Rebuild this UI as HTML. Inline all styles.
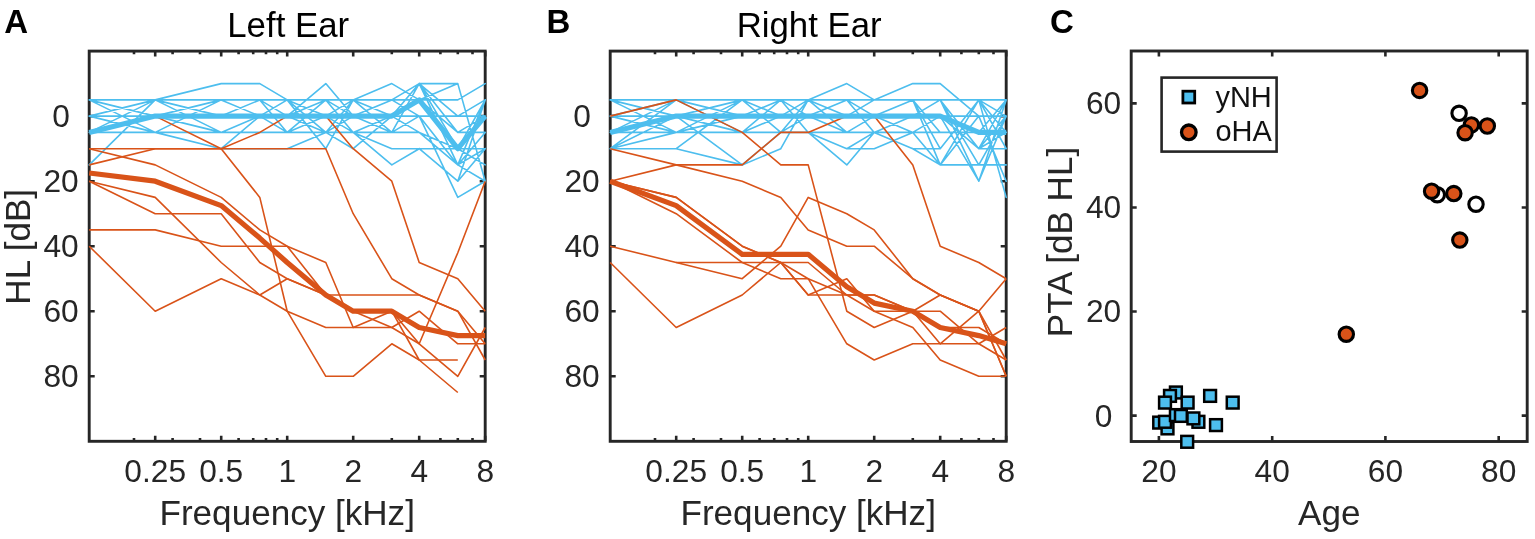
<!DOCTYPE html>
<html><head><meta charset="utf-8"><title>Audiograms</title>
<style>
html,body{margin:0;padding:0;background:#fff;}
body{width:1535px;height:539px;overflow:hidden;}
svg{display:block;}
text{font-family:"Liberation Sans",sans-serif;fill:#262626;}
.tk{font-size:31.7px;}
.lb{font-size:35.1px;}
.tt{font-size:34.8px;fill:#000;}
.pl{font-size:33px;font-weight:bold;fill:#000;}
.lg{font-size:29px;fill:#111}
</style></head><body>
<svg width="1535" height="539" viewBox="0 0 1535 539">
<rect width="1535" height="539" fill="#fff"/>
<path d="M134.0 51.1v3.2 M134.0 441.3v-3.2 M155.2 51.1v5.5 M155.2 441.3v-5.5 M172.6 51.1v3.2 M172.6 441.3v-3.2 M200.0 51.1v3.2 M200.0 441.3v-3.2 M221.2 51.1v5.5 M221.2 441.3v-5.5 M238.6 51.1v3.2 M238.6 441.3v-3.2 M253.2 51.1v3.2 M253.2 441.3v-3.2 M266.0 51.1v3.2 M266.0 441.3v-3.2 M277.2 51.1v3.2 M277.2 441.3v-3.2 M287.2 51.1v5.5 M287.2 441.3v-5.5 M353.2 51.1v5.5 M353.2 441.3v-5.5 M391.8 51.1v3.2 M391.8 441.3v-3.2 M419.2 51.1v5.5 M419.2 441.3v-5.5 M440.4 51.1v3.2 M440.4 441.3v-3.2 M457.8 51.1v3.2 M457.8 441.3v-3.2 M472.5 51.1v3.2 M472.5 441.3v-3.2 M485.2 51.1v5.5 M485.2 441.3v-5.5 M89.2 116.1h5.5 M485.2 116.1h-5.5 M89.2 181.2h5.5 M485.2 181.2h-5.5 M89.2 246.2h5.5 M485.2 246.2h-5.5 M89.2 311.2h5.5 M485.2 311.2h-5.5 M89.2 376.3h5.5 M485.2 376.3h-5.5" stroke="#262626" stroke-width="2.6" fill="none"/>
<rect x="89.2" y="51.1" width="396" height="390.2" fill="none" stroke="#262626" stroke-width="2.9"/>
<text x="155.2" y="481.5" class="tk" text-anchor="middle">0.25</text>
<text x="221.2" y="481.5" class="tk" text-anchor="middle">0.5</text>
<text x="287.2" y="481.5" class="tk" text-anchor="middle">1</text>
<text x="353.2" y="481.5" class="tk" text-anchor="middle">2</text>
<text x="419.2" y="481.5" class="tk" text-anchor="middle">4</text>
<text x="485.2" y="481.5" class="tk" text-anchor="middle">8</text>
<text x="61.0" y="127.0" class="tk" text-anchor="middle">0</text>
<text x="61.0" y="192.1" class="tk" text-anchor="middle">20</text>
<text x="61.0" y="257.1" class="tk" text-anchor="middle">40</text>
<text x="61.0" y="322.1" class="tk" text-anchor="middle">60</text>
<text x="61.0" y="387.2" class="tk" text-anchor="middle">80</text>
<text x="287.2" y="524.5" class="lb" text-anchor="middle">Frequency [kHz]</text>
<text x="288.2" y="37.4" class="tt" text-anchor="middle">Left Ear</text>
<text x="4.2" y="33.4" class="pl">A</text>
<text transform="translate(30.0,246.8) rotate(-90)" class="lb" text-anchor="middle">HL [dB]</text>
<path d="M655.0 51.1v3.2 M655.0 441.3v-3.2 M676.2 51.1v5.5 M676.2 441.3v-5.5 M693.6 51.1v3.2 M693.6 441.3v-3.2 M721.0 51.1v3.2 M721.0 441.3v-3.2 M742.2 51.1v5.5 M742.2 441.3v-5.5 M759.6 51.1v3.2 M759.6 441.3v-3.2 M774.2 51.1v3.2 M774.2 441.3v-3.2 M787.0 51.1v3.2 M787.0 441.3v-3.2 M798.2 51.1v3.2 M798.2 441.3v-3.2 M808.2 51.1v5.5 M808.2 441.3v-5.5 M874.2 51.1v5.5 M874.2 441.3v-5.5 M912.8 51.1v3.2 M912.8 441.3v-3.2 M940.2 51.1v5.5 M940.2 441.3v-5.5 M961.4 51.1v3.2 M961.4 441.3v-3.2 M978.8 51.1v3.2 M978.8 441.3v-3.2 M993.5 51.1v3.2 M993.5 441.3v-3.2 M1006.2 51.1v5.5 M1006.2 441.3v-5.5 M610.2 116.1h5.5 M1006.2 116.1h-5.5 M610.2 181.2h5.5 M1006.2 181.2h-5.5 M610.2 246.2h5.5 M1006.2 246.2h-5.5 M610.2 311.2h5.5 M1006.2 311.2h-5.5 M610.2 376.3h5.5 M1006.2 376.3h-5.5" stroke="#262626" stroke-width="2.6" fill="none"/>
<rect x="610.2" y="51.1" width="396" height="390.2" fill="none" stroke="#262626" stroke-width="2.9"/>
<text x="676.2" y="481.5" class="tk" text-anchor="middle">0.25</text>
<text x="742.2" y="481.5" class="tk" text-anchor="middle">0.5</text>
<text x="808.2" y="481.5" class="tk" text-anchor="middle">1</text>
<text x="874.2" y="481.5" class="tk" text-anchor="middle">2</text>
<text x="940.2" y="481.5" class="tk" text-anchor="middle">4</text>
<text x="1006.2" y="481.5" class="tk" text-anchor="middle">8</text>
<text x="582.0" y="127.0" class="tk" text-anchor="middle">0</text>
<text x="582.0" y="192.1" class="tk" text-anchor="middle">20</text>
<text x="582.0" y="257.1" class="tk" text-anchor="middle">40</text>
<text x="582.0" y="322.1" class="tk" text-anchor="middle">60</text>
<text x="582.0" y="387.2" class="tk" text-anchor="middle">80</text>
<text x="808.2" y="524.5" class="lb" text-anchor="middle">Frequency [kHz]</text>
<text x="809.2" y="37.4" class="tt" text-anchor="middle">Right Ear</text>
<text x="546.6" y="33.4" class="pl">B</text>
<path d="M89.2 99.9L155.2 99.9 M89.2 99.9L155.2 116.1 M89.2 99.9L155.2 132.4 M89.2 116.1L155.2 99.9 M89.2 116.1L155.2 116.1 M89.2 116.1L155.2 132.4 M89.2 132.4L155.2 99.9 M89.2 132.4L155.2 116.1 M89.2 132.4L155.2 132.4 M89.2 164.9L155.2 99.9 M155.2 99.9L221.2 83.6 M155.2 99.9L221.2 99.9 M155.2 99.9L221.2 116.1 M155.2 99.9L221.2 132.4 M155.2 116.1L221.2 99.9 M155.2 116.1L221.2 116.1 M155.2 116.1L221.2 132.4 M155.2 132.4L221.2 99.9 M155.2 132.4L221.2 132.4 M155.2 132.4L221.2 148.7 M221.2 83.6L259.8 83.6 M221.2 99.9L259.8 99.9 M221.2 99.9L259.8 116.1 M221.2 116.1L259.8 99.9 M221.2 116.1L259.8 116.1 M221.2 132.4L259.8 116.1 M221.2 148.7L259.8 116.1 M221.2 132.4L259.8 132.4 M221.2 148.7L259.8 148.7 M259.8 83.6L287.2 99.9 M259.8 99.9L287.2 99.9 M259.8 99.9L287.2 116.1 M259.8 99.9L287.2 132.4 M259.8 116.1L287.2 99.9 M259.8 116.1L287.2 116.1 M259.8 116.1L287.2 132.4 M259.8 132.4L287.2 132.4 M259.8 148.7L287.2 148.7 M287.2 116.1L325.8 83.6 M287.2 99.9L325.8 99.9 M287.2 99.9L325.8 116.1 M287.2 99.9L325.8 132.4 M287.2 99.9L325.8 148.7 M287.2 116.1L325.8 116.1 M287.2 116.1L325.8 99.9 M287.2 132.4L325.8 132.4 M287.2 132.4L325.8 99.9 M287.2 132.4L325.8 116.1 M287.2 148.7L325.8 132.4 M287.2 116.1L325.8 132.4 M325.8 83.6L353.2 116.1 M325.8 99.9L353.2 99.9 M325.8 99.9L353.2 116.1 M325.8 116.1L353.2 99.9 M325.8 116.1L353.2 116.1 M325.8 116.1L353.2 132.4 M325.8 132.4L353.2 99.9 M325.8 132.4L353.2 132.4 M325.8 132.4L353.2 116.1 M325.8 148.7L353.2 99.9 M325.8 132.4L353.2 148.7 M325.8 99.9L353.2 132.4 M353.2 99.9L391.8 83.6 M353.2 99.9L391.8 99.9 M353.2 99.9L391.8 132.4 M353.2 116.1L391.8 116.1 M353.2 116.1L391.8 99.9 M353.2 116.1L391.8 132.4 M353.2 132.4L391.8 116.1 M353.2 132.4L391.8 132.4 M353.2 132.4L391.8 148.7 M353.2 132.4L391.8 164.9 M353.2 148.7L391.8 116.1 M353.2 99.9L391.8 116.1 M391.8 83.6L419.2 99.9 M391.8 99.9L419.2 83.6 M391.8 116.1L419.2 83.6 M391.8 132.4L419.2 83.6 M391.8 99.9L419.2 99.9 M391.8 116.1L419.2 99.9 M391.8 148.7L419.2 148.7 M391.8 164.9L419.2 148.7 M391.8 99.9L419.2 116.1 M391.8 116.1L419.2 132.4 M391.8 132.4L419.2 116.1 M391.8 116.1L419.2 116.1 M391.8 132.4L419.2 132.4 M419.2 99.9L457.8 83.6 M419.2 83.6L457.8 83.6 M419.2 83.6L457.8 116.1 M419.2 83.6L457.8 148.7 M419.2 83.6L457.8 164.9 M419.2 99.9L457.8 132.4 M419.2 116.1L457.8 197.4 M419.2 148.7L457.8 181.2 M419.2 148.7L457.8 148.7 M419.2 116.1L457.8 164.9 M419.2 132.4L457.8 164.9 M419.2 99.9L457.8 99.9 M419.2 116.1L457.8 116.1 M419.2 83.6L457.8 132.4 M419.2 132.4L457.8 148.7 M457.8 83.6L485.2 181.2 M457.8 99.9L485.2 83.6 M457.8 148.7L485.2 148.7 M457.8 197.4L485.2 181.2 M457.8 164.9L485.2 181.2 M457.8 181.2L485.2 99.9 M457.8 164.9L485.2 99.9 M457.8 148.7L485.2 99.9 M457.8 164.9L485.2 132.4 M457.8 132.4L485.2 132.4 M457.8 116.1L485.2 99.9 M457.8 181.2L485.2 148.7 M457.8 164.9L485.2 148.7 M457.8 148.7L485.2 164.9 M457.8 132.4L485.2 116.1 M457.8 116.1L485.2 116.1" fill="none" stroke="#4DBEEE" stroke-width="1.6" stroke-linecap="round"/>
<polyline points="89.2,148.7 155.2,148.7 221.2,148.7 259.8,148.7 287.2,148.7 325.8,148.7 353.2,213.7 391.8,278.7 419.2,295.0 457.8,311.2 485.2,360.0" fill="none" stroke="#D95319" stroke-width="1.6" stroke-linejoin="round" stroke-linecap="butt"/>
<polyline points="89.2,148.7 155.2,164.9 221.2,197.4 259.8,229.9 287.2,246.2 325.8,262.5 353.2,327.5 391.8,311.2 419.2,343.8 457.8,252.7 485.2,181.2" fill="none" stroke="#D95319" stroke-width="1.6" stroke-linejoin="round" stroke-linecap="butt"/>
<polyline points="89.2,164.9 155.2,148.7 221.2,148.7 259.8,132.4 287.2,116.1 325.8,116.1 353.2,148.7 391.8,181.2 419.2,262.5 457.8,278.7 485.2,311.2" fill="none" stroke="#D95319" stroke-width="1.6" stroke-linejoin="round" stroke-linecap="butt"/>
<polyline points="89.2,181.2 155.2,197.4 221.2,262.5 259.8,295.0 287.2,311.2 325.8,327.5 353.2,327.5 391.8,327.5 419.2,311.2 457.8,343.8 485.2,343.8" fill="none" stroke="#D95319" stroke-width="1.6" stroke-linejoin="round" stroke-linecap="butt"/>
<polyline points="89.2,181.2 155.2,213.7 221.2,213.7 259.8,262.5 287.2,278.7 325.8,295.0 353.2,295.0 391.8,295.0 419.2,295.0 457.8,311.2 485.2,343.8" fill="none" stroke="#D95319" stroke-width="1.6" stroke-linejoin="round" stroke-linecap="butt"/>
<polyline points="89.2,229.9 155.2,229.9 221.2,246.2 259.8,246.2 287.2,246.2 325.8,295.0 353.2,311.2 391.8,311.2 419.2,360.0 457.8,360.0" fill="none" stroke="#D95319" stroke-width="1.6" stroke-linejoin="round" stroke-linecap="butt"/>
<polyline points="89.2,246.2 155.2,311.2 221.2,278.7 259.8,295.0 287.2,278.7 325.8,295.0 353.2,311.2 391.8,327.5 419.2,343.8 457.8,376.3 485.2,327.5" fill="none" stroke="#D95319" stroke-width="1.6" stroke-linejoin="round" stroke-linecap="butt"/>
<polyline points="89.2,132.4 155.2,116.1 221.2,148.7 259.8,197.4 287.2,311.2 325.8,376.3 353.2,376.3 391.8,343.8 419.2,360.0 457.8,392.5" fill="none" stroke="#D95319" stroke-width="1.6" stroke-linejoin="round" stroke-linecap="butt"/>
<polyline points="89.2,173.0 155.2,181.2 221.2,205.6 259.8,238.1 287.2,262.5 325.8,295.0 353.2,311.2 391.8,311.2 419.2,327.5 457.8,335.6 485.2,335.6" fill="none" stroke="#D95319" stroke-width="5.2" stroke-linejoin="round" stroke-linecap="butt"/>
<polyline points="89.2,132.4 155.2,116.1 221.2,116.1 259.8,116.1 287.2,116.1 325.8,116.1 353.2,116.1 391.8,116.1 419.2,99.9 457.8,148.7 485.2,116.1" fill="none" stroke="#4DBEEE" stroke-width="5.2" stroke-linejoin="round" stroke-linecap="butt"/>
<path d="M610.2 99.9L676.2 99.9 M610.2 99.9L676.2 116.1 M610.2 99.9L676.2 132.4 M610.2 116.1L676.2 99.9 M610.2 116.1L676.2 116.1 M610.2 116.1L676.2 132.4 M610.2 132.4L676.2 99.9 M610.2 132.4L676.2 116.1 M610.2 132.4L676.2 132.4 M610.2 148.7L676.2 99.9 M610.2 148.7L676.2 116.1 M610.2 148.7L676.2 132.4 M610.2 148.7L676.2 148.7 M676.2 99.9L742.2 99.9 M676.2 99.9L742.2 116.1 M676.2 99.9L742.2 132.4 M676.2 116.1L742.2 164.9 M676.2 148.7L742.2 164.9 M676.2 148.7L742.2 99.9 M676.2 132.4L742.2 99.9 M676.2 132.4L742.2 132.4 M676.2 116.1L742.2 99.9 M676.2 116.1L742.2 116.1 M676.2 116.1L742.2 132.4 M676.2 132.4L742.2 116.1 M742.2 99.9L780.8 99.9 M742.2 99.9L780.8 116.1 M742.2 99.9L780.8 132.4 M742.2 116.1L780.8 99.9 M742.2 116.1L780.8 116.1 M742.2 132.4L780.8 99.9 M742.2 132.4L780.8 132.4 M742.2 132.4L780.8 116.1 M742.2 164.9L780.8 148.7 M742.2 164.9L780.8 132.4 M780.8 99.9L808.2 99.9 M780.8 99.9L808.2 116.1 M780.8 116.1L808.2 99.9 M780.8 116.1L808.2 116.1 M780.8 132.4L808.2 99.9 M780.8 132.4L808.2 132.4 M780.8 148.7L808.2 99.9 M780.8 99.9L808.2 132.4 M780.8 132.4L808.2 116.1 M808.2 99.9L846.8 83.6 M808.2 99.9L846.8 99.9 M808.2 99.9L846.8 116.1 M808.2 116.1L846.8 99.9 M808.2 116.1L846.8 132.4 M808.2 116.1L846.8 116.1 M808.2 132.4L846.8 148.7 M808.2 132.4L846.8 164.9 M808.2 99.9L846.8 132.4 M808.2 132.4L846.8 132.4 M846.8 83.6L874.2 99.9 M846.8 99.9L874.2 116.1 M846.8 99.9L874.2 132.4 M846.8 132.4L874.2 116.1 M846.8 148.7L874.2 148.7 M846.8 148.7L874.2 132.4 M846.8 164.9L874.2 132.4 M846.8 116.1L874.2 99.9 M846.8 99.9L874.2 99.9 M846.8 116.1L874.2 116.1 M846.8 132.4L874.2 132.4 M874.2 99.9L912.8 83.6 M874.2 99.9L912.8 99.9 M874.2 116.1L912.8 99.9 M874.2 132.4L912.8 132.4 M874.2 148.7L912.8 132.4 M874.2 132.4L912.8 148.7 M874.2 116.1L912.8 116.1 M874.2 132.4L912.8 116.1 M874.2 116.1L912.8 132.4 M912.8 83.6L940.2 83.6 M912.8 99.9L940.2 99.9 M912.8 99.9L940.2 132.4 M912.8 99.9L940.2 148.7 M912.8 99.9L940.2 164.9 M912.8 132.4L940.2 132.4 M912.8 132.4L940.2 164.9 M912.8 148.7L940.2 164.9 M912.8 148.7L940.2 148.7 M912.8 116.1L940.2 99.9 M912.8 132.4L940.2 116.1 M912.8 116.1L940.2 116.1 M940.2 83.6L978.8 116.1 M940.2 99.9L978.8 99.9 M940.2 99.9L978.8 181.2 M940.2 148.7L978.8 99.9 M940.2 116.1L978.8 148.7 M940.2 132.4L978.8 132.4 M940.2 99.9L978.8 148.7 M940.2 99.9L978.8 164.9 M940.2 116.1L978.8 116.1 M940.2 164.9L978.8 164.9 M940.2 164.9L978.8 116.1 M940.2 148.7L978.8 99.9 M940.2 164.9L978.8 99.9 M940.2 116.1L978.8 181.2 M978.8 99.9L1006.2 99.9 M978.8 99.9L1006.2 116.1 M978.8 99.9L1006.2 132.4 M978.8 99.9L1006.2 148.7 M978.8 99.9L1006.2 197.4 M978.8 116.1L1006.2 181.2 M978.8 148.7L1006.2 148.7 M978.8 148.7L1006.2 99.9 M978.8 148.7L1006.2 116.1 M978.8 148.7L1006.2 132.4 M978.8 132.4L1006.2 99.9 M978.8 181.2L1006.2 116.1 M978.8 164.9L1006.2 164.9 M978.8 164.9L1006.2 116.1 M978.8 181.2L1006.2 99.9 M978.8 116.1L1006.2 116.1" fill="none" stroke="#4DBEEE" stroke-width="1.6" stroke-linecap="round"/>
<polyline points="610.2,116.1 676.2,99.9 742.2,132.4 780.8,164.9 808.2,164.9 846.8,311.2 874.2,327.5 912.8,311.2 940.2,295.0 978.8,311.2 1006.2,376.3" fill="none" stroke="#D95319" stroke-width="1.6" stroke-linejoin="round" stroke-linecap="butt"/>
<polyline points="610.2,148.7 676.2,164.9 742.2,181.2 780.8,197.4 808.2,229.9 846.8,246.2 874.2,246.2 912.8,278.7 940.2,295.0 978.8,311.2 1006.2,376.3" fill="none" stroke="#D95319" stroke-width="1.6" stroke-linejoin="round" stroke-linecap="butt"/>
<polyline points="610.2,181.2 676.2,164.9 742.2,164.9 780.8,132.4 808.2,132.4 846.8,116.1 874.2,116.1 912.8,164.9 940.2,246.2 978.8,262.5 1006.2,278.7" fill="none" stroke="#D95319" stroke-width="1.6" stroke-linejoin="round" stroke-linecap="butt"/>
<polyline points="610.2,181.2 676.2,197.4 742.2,246.2 780.8,262.5 808.2,278.7 846.8,343.8 874.2,360.0 912.8,343.8 940.2,343.8 978.8,343.8 1006.2,327.5" fill="none" stroke="#D95319" stroke-width="1.6" stroke-linejoin="round" stroke-linecap="butt"/>
<polyline points="610.2,181.2 676.2,213.7 742.2,262.5 780.8,278.7 808.2,278.7 846.8,295.0 874.2,295.0 912.8,311.2 940.2,343.8 978.8,311.2 1006.2,278.7" fill="none" stroke="#D95319" stroke-width="1.6" stroke-linejoin="round" stroke-linecap="butt"/>
<polyline points="610.2,246.2 676.2,262.5 742.2,278.7 780.8,246.2 808.2,197.4 846.8,213.7 874.2,229.9 912.8,278.7 940.2,295.0 978.8,311.2 1006.2,360.0" fill="none" stroke="#D95319" stroke-width="1.6" stroke-linejoin="round" stroke-linecap="butt"/>
<polyline points="610.2,262.5 676.2,327.5 742.2,295.0 780.8,262.5 808.2,295.0 846.8,278.7 874.2,311.2 912.8,327.5 940.2,360.0 978.8,376.3 1006.2,376.3" fill="none" stroke="#D95319" stroke-width="1.6" stroke-linejoin="round" stroke-linecap="butt"/>
<polyline points="676.2,262.5 742.2,262.5 780.8,262.5 808.2,295.0 846.8,295.0 874.2,311.2 912.8,311.2 940.2,311.2 978.8,343.8 1006.2,360.0" fill="none" stroke="#D95319" stroke-width="1.6" stroke-linejoin="round" stroke-linecap="butt"/>
<polyline points="610.2,181.2 676.2,197.4 742.2,246.2 780.8,262.5 808.2,262.5 846.8,295.0 874.2,295.0 912.8,311.2 940.2,327.5 978.8,327.5 1006.2,343.8" fill="none" stroke="#D95319" stroke-width="1.6" stroke-linejoin="round" stroke-linecap="butt"/>
<polyline points="610.2,181.2 676.2,205.6 742.2,254.3 780.8,254.3 808.2,254.3 846.8,286.8 874.2,303.1 912.8,311.2 940.2,327.5 978.8,335.6 1006.2,343.8" fill="none" stroke="#D95319" stroke-width="5.2" stroke-linejoin="round" stroke-linecap="butt"/>
<polyline points="610.2,132.4 676.2,116.1 742.2,116.1 780.8,116.1 808.2,116.1 846.8,116.1 874.2,116.1 912.8,116.1 940.2,116.1 978.8,132.4 1006.2,132.4" fill="none" stroke="#4DBEEE" stroke-width="5.2" stroke-linejoin="round" stroke-linecap="butt"/>
<path d="M1158.9 51.0v5.5 M1158.9 441.5v-5.5 M1272.2 51.0v5.5 M1272.2 441.5v-5.5 M1385.4 51.0v5.5 M1385.4 441.5v-5.5 M1498.7 51.0v5.5 M1498.7 441.5v-5.5 M1131.2 415.6h5.5 M1527.2 415.6h-5.5 M1131.2 311.5h5.5 M1527.2 311.5h-5.5 M1131.2 207.5h5.5 M1527.2 207.5h-5.5 M1131.2 103.4h5.5 M1527.2 103.4h-5.5" stroke="#262626" stroke-width="2.6" fill="none"/>
<rect x="1131.2" y="51.0" width="396.0" height="390.5" fill="none" stroke="#262626" stroke-width="2.9"/>
<text x="1158.9" y="481.5" class="tk" text-anchor="middle">20</text>
<text x="1272.2" y="481.5" class="tk" text-anchor="middle">40</text>
<text x="1385.4" y="481.5" class="tk" text-anchor="middle">60</text>
<text x="1498.7" y="481.5" class="tk" text-anchor="middle">80</text>
<text x="1103.5" y="426.5" class="tk" text-anchor="middle">0</text>
<text x="1103.5" y="322.4" class="tk" text-anchor="middle">20</text>
<text x="1103.5" y="218.4" class="tk" text-anchor="middle">40</text>
<text x="1103.5" y="114.3" class="tk" text-anchor="middle">60</text>
<text x="1329.2" y="524.5" class="lb" text-anchor="middle">Age</text>
<text transform="translate(1071.8,242) rotate(-90)" class="lb" text-anchor="middle">PTA [dB HL]</text>
<text x="1050" y="33.4" class="pl">C</text>
<rect x="1153.3" y="416.7" width="11.8" height="11.8" fill="#4DBEEE" stroke="#000" stroke-width="2.5"/>
<rect x="1161.6" y="422.5" width="11.8" height="11.8" fill="#4DBEEE" stroke="#000" stroke-width="2.5"/>
<rect x="1159.1" y="415.9" width="11.8" height="11.8" fill="#4DBEEE" stroke="#000" stroke-width="2.5"/>
<rect x="1170.0" y="409.2" width="11.8" height="11.8" fill="#4DBEEE" stroke="#000" stroke-width="2.5"/>
<rect x="1175.0" y="410.0" width="11.8" height="11.8" fill="#4DBEEE" stroke="#000" stroke-width="2.5"/>
<rect x="1170.0" y="386.6" width="11.8" height="11.8" fill="#4DBEEE" stroke="#000" stroke-width="2.5"/>
<rect x="1164.1" y="390.0" width="11.8" height="11.8" fill="#4DBEEE" stroke="#000" stroke-width="2.5"/>
<rect x="1159.1" y="396.7" width="11.8" height="11.8" fill="#4DBEEE" stroke="#000" stroke-width="2.5"/>
<rect x="1181.7" y="396.7" width="11.8" height="11.8" fill="#4DBEEE" stroke="#000" stroke-width="2.5"/>
<rect x="1204.2" y="390.0" width="11.8" height="11.8" fill="#4DBEEE" stroke="#000" stroke-width="2.5"/>
<rect x="1226.8" y="396.7" width="11.8" height="11.8" fill="#4DBEEE" stroke="#000" stroke-width="2.5"/>
<rect x="1192.5" y="415.9" width="11.8" height="11.8" fill="#4DBEEE" stroke="#000" stroke-width="2.5"/>
<rect x="1187.5" y="412.5" width="11.8" height="11.8" fill="#4DBEEE" stroke="#000" stroke-width="2.5"/>
<rect x="1210.1" y="419.2" width="11.8" height="11.8" fill="#4DBEEE" stroke="#000" stroke-width="2.5"/>
<rect x="1181.3" y="435.9" width="11.8" height="11.8" fill="#4DBEEE" stroke="#000" stroke-width="2.5"/>
<circle cx="1437.3" cy="194.7" r="7.2" fill="#fff" stroke="#000" stroke-width="3.1"/>
<circle cx="1431.6" cy="191.2" r="7.2" fill="#D95319" stroke="#000" stroke-width="3.1"/>
<circle cx="1453.8" cy="193.6" r="7.2" fill="#D95319" stroke="#000" stroke-width="3.1"/>
<circle cx="1476.0" cy="204.2" r="7.2" fill="#fff" stroke="#000" stroke-width="3.1"/>
<circle cx="1459.8" cy="240.1" r="7.2" fill="#D95319" stroke="#000" stroke-width="3.1"/>
<circle cx="1346.3" cy="334.2" r="7.2" fill="#D95319" stroke="#000" stroke-width="3.1"/>
<circle cx="1419.6" cy="90.4" r="7.2" fill="#D95319" stroke="#000" stroke-width="3.1"/>
<circle cx="1459.1" cy="113.3" r="7.2" fill="#fff" stroke="#000" stroke-width="3.1"/>
<circle cx="1471.4" cy="124.9" r="7.2" fill="#D95319" stroke="#000" stroke-width="3.1"/>
<circle cx="1487.3" cy="126.0" r="7.2" fill="#D95319" stroke="#000" stroke-width="3.1"/>
<circle cx="1465.1" cy="132.7" r="7.2" fill="#D95319" stroke="#000" stroke-width="3.1"/>
<rect x="1161.6" y="77.6" width="115" height="74" fill="#fff" stroke="#262626" stroke-width="2.6"/>
<rect x="1182.9" y="91.2" width="11.8" height="11.8" fill="#4DBEEE" stroke="#000" stroke-width="2.8"/>
<circle cx="1188.8" cy="132.3" r="7.3" fill="#D95319" stroke="#000" stroke-width="3.3"/>
<text x="1215.4" y="106.5" class="lg">yNH</text>
<text x="1215.4" y="141.1" class="lg">oHA</text>
</svg>
</body></html>
